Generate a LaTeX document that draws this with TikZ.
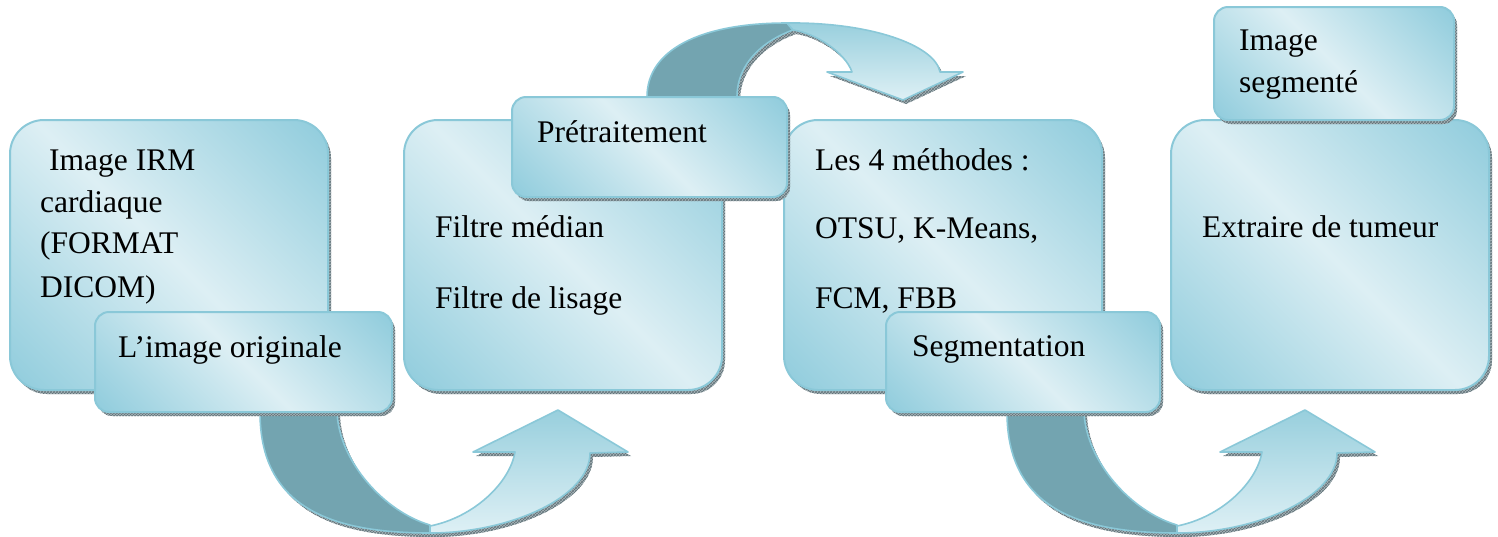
\documentclass[tikz,border=0pt]{standalone}
\usepackage{fontspec}
\setmainfont{Liberation Serif}
\usetikzlibrary{shadows,patterns,calc}

\definecolor{bxdk}{RGB}{146,205,221}
\definecolor{bxlt}{RGB}{221,239,244}
\definecolor{bxedge}{RGB}{138,200,216}
\definecolor{shfill}{RGB}{170,182,186}
\definecolor{shline}{RGB}{98,116,122}
\definecolor{bandback}{RGB}{115,164,176}
\definecolor{bandtop}{RGB}{152,207,221}
\definecolor{bandlow}{RGB}{222,240,245}

% diagonal sheen: dark corners, light band along the main diagonal
\pgfdeclareverticalshading{boxshade}{100bp}{color(0bp)=(bxdk); color(16bp)=(bxdk); color(50bp)=(bxlt); color(84bp)=(bxdk); color(100bp)=(bxdk)}

\tikzset{
  txt/.style={anchor=base west, inner sep=0pt, font=\fontsize{31.5}{38}\selectfont},
  boxshadow/.style={
    general shadow={fill=shfill, shadow xshift=3pt, shadow yshift=-4pt},
    general shadow={pattern=crosshatch, pattern color=shline, shadow xshift=3pt, shadow yshift=-4pt}},
  panel/.style={rectangle, rounded corners=#1, draw=bxedge, line width=2pt,
    shading=boxshade, shading angle=-45, inner sep=0pt, outer sep=0pt, boxshadow},
  bigpanel/.style={panel=34pt, minimum width=318pt, minimum height=270pt},
  tabpanel/.style={panel=14pt},
  % curved arrows: a flat back band and a shaded front band with its head
  ushadow/.style={fill=shfill, postaction={pattern=crosshatch, pattern color=shline}},
  backband/.style={fill=bandback, draw=bxedge, line width=1.6pt, line join=round},
  frontband/.style={top color=bandtop, bottom color=bandlow, draw=bxedge, line width=1.6pt, line join=round},
  uback/.style={insert path={(0,0) .. controls (0,95) and (70,121) .. (170,121) -- (170,113) .. controls (125,100) and (79,50) .. (77,0) -- cycle}},
  ufront/.style={insert path={(170,121) .. controls (250,121) and (330,85) .. (330,41) -- (368,40) -- (298,-2) -- (213,40) -- (255,40) .. controls (250,70) and (215,105) .. (170,114) -- cycle}},
  oback/.style={insert path={(0,0) .. controls (0,-47) and (53,-74) .. (140,-74) -- (146,-67) .. controls (118,-57) and (90,-35) .. (90,0) -- cycle}},
  ofront/.style={insert path={(140,-74) .. controls (223,-75) and (288,-52) .. (293,-25) -- (316,-25) -- (256,3) -- (180,-25) -- (205,-25) .. controls (198,-45) and (168,-64) .. (146,-67) -- cycle}},
  uturn/.pic={
    \fill[ushadow, shift={(3,4)}, uback];
    \fill[ushadow, shift={(3,4)}, ufront];
    \path[backband, uback];
    \path[frontband, ufront];
  },
  overturn/.pic={
    \fill[ushadow, shift={(3,4)}, oback];
    \fill[ushadow, shift={(3,4)}, ofront];
    \path[backband, oback];
    \path[frontband, ofront];
  },
}

\begin{document}
\begin{tikzpicture}[x=1pt, y=-1pt]
\useasboundingbox (0,0) rectangle (1498,536);

% main panels
\node[bigpanel] (b1) at (169,255) {};
\node[bigpanel] (b2) at (563,255) {};
\node[bigpanel] (b3) at (943,255) {};
\node[bigpanel] (b4) at (1330,255) {};

% labelled tabs
\coordinate (origsw) at (95,412);
\coordinate (prenw) at (512,97);
\coordinate (segsw) at (886,412);

% arrows between the stages
\pic at ($(origsw)+(165,0)$) {uturn};
\pic at ($(prenw)+(135,0)$) {overturn};
\pic at ($(segsw)+(121,0)$) {uturn};

\node[tabpanel, minimum width=297pt, minimum height=100pt] (orig) at (243.5,362) {};
\node[tabpanel, minimum width=275pt, minimum height=100pt] (pre) at (649.5,147) {};
\node[tabpanel, minimum width=274pt, minimum height=100pt] (seg) at (1023,362) {};
\node[tabpanel, minimum width=240pt, minimum height=113pt] (res) at (1334,63.5) {};

% texts
\node[txt] (t1a) at (49,170) {Image IRM};
\node[txt] (t1b) at (40,212) {cardiaque};
\node[txt] (t1c) at (40,253) {(FORMAT};
\node[txt] (t1d) at (40,297) {DICOM)};
\node[txt] (t1e) at (118,357) {L’image originale};

\node[txt] (t2a) at (537,142) {Prétraitement};
\node[txt] (t2b) at (435,237) {Filtre médian};
\node[txt] (t2c) at (435,308) {Filtre de lisage};

\node[txt] (t3a) at (815,170) {Les 4 méthodes :};
\node[txt] (t3b) at (815,238) {OTSU, K-Means,};
\node[txt] (t3c) at (815,308) {FCM, FBB};
\node[txt] (t3d) at (912,356) {Segmentation};

\node[txt] (t4a) at (1239,50) {Image};
\node[txt] (t4b) at (1239,92) {segmenté};
\node[txt] (t4c) at (1202,237) {Extraire de tumeur};
\end{tikzpicture}
\end{document}
